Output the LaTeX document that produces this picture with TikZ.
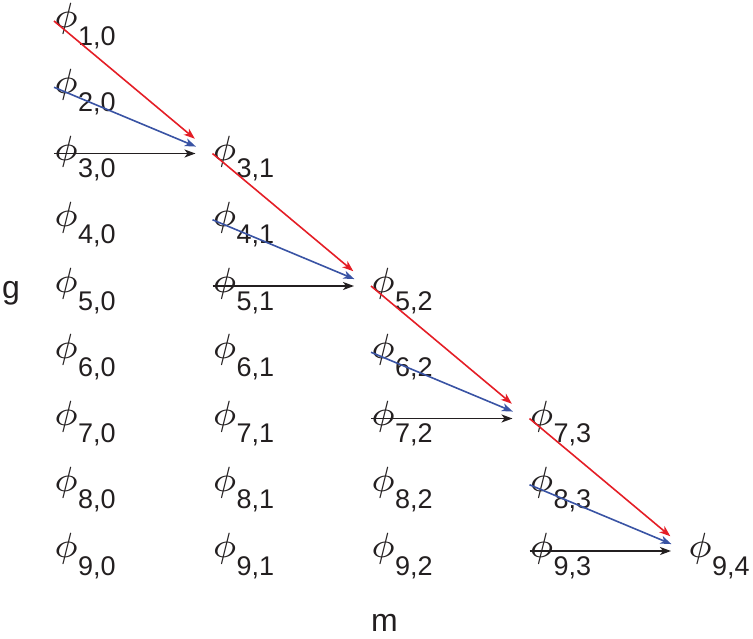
\documentclass[tikz,border=0pt]{standalone}
\usepackage{fontspec}
\setmainfont{Liberation Sans}
\usetikzlibrary{arrows.meta}
\definecolor{myred}{RGB}{228,30,38}
\definecolor{myblue}{RGB}{57,83,164}
\definecolor{myblack}{RGB}{35,31,32}
\newcommand{\phisub}[1]{\scalebox{5}{$\scriptstyle\phi$}\raisebox{-17.5pt}{\fontsize{27}{27}\selectfont #1}}
\begin{document}
\begin{tikzpicture}[x=1pt,y=-1pt,
  phin/.style={inner sep=0pt, outer sep=0pt, anchor=base west, text=myblack},
  axlab/.style={inner sep=0pt, outer sep=0pt, anchor=base west, text=myblack, font=\fontsize{32}{32}\selectfont},
  conn/.style={line width=1.6pt, -{Stealth[length=11pt,width=8pt,inset=3pt]}}]
\useasboundingbox (0,0) rectangle (753,638);
\foreach \j in {0,...,4}{
  \pgfmathtruncatemacro{\s}{2*\j+1}
  \foreach \i in {\s,...,9}{
    \node[phin] (p\i\j) at ({54+158.5*\j},{27.5+66.25*(\i-1)}) {\phisub{\i,\j}};
  }
}
\foreach \t/\j in {3/1,5/2,7/3,9/4}{
  \pgfmathtruncatemacro{\a}{\t-2}
  \pgfmathtruncatemacro{\b}{\t-1}
  \pgfmathtruncatemacro{\c}{\j-1}
  \draw[conn,myred,shorten >=23pt] ([yshift=6.5pt]p\a\c.base west) -- ([yshift=6.5pt]p\t\j.base west);
  \draw[conn,myblue,shorten >=18pt] ([yshift=6.5pt]p\b\c.base west) -- ([yshift=6.5pt]p\t\j.base west);
  \draw[conn,myblack,shorten >=17pt] ([yshift=6.5pt]p\t\c.base west) -- ([yshift=6.5pt]p\t\j.base west);
}
\node[axlab] (g) at (2,298.6) {g};
\node[axlab] (m) at (371,631) {m};
\end{tikzpicture}
\end{document}
